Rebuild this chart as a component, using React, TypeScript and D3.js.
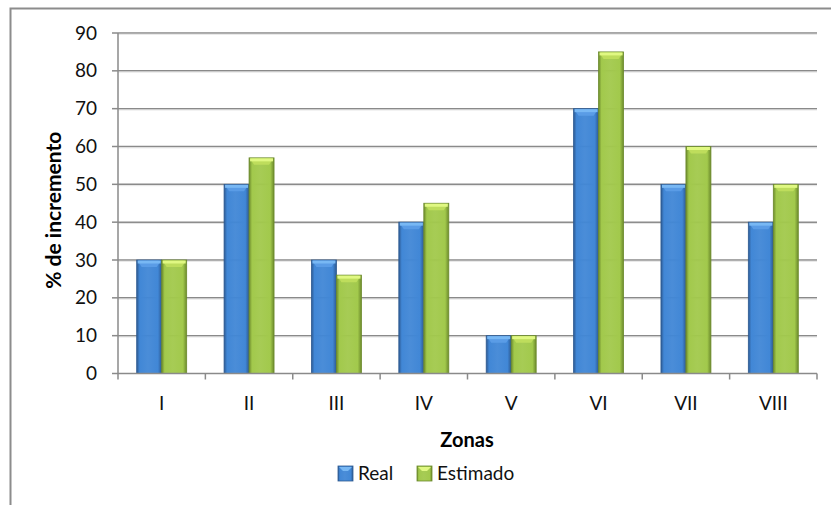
import React from "react";
import * as d3 from "d3";

const zonas = ["I", "II", "III", "IV", "V", "VI", "VII", "VIII"];
const real = [30, 50, 30, 40, 10, 70, 50, 40];
const estimado = [30, 57, 26, 45, 10, 85, 60, 50];
const seriesNames = ["Real", "Estimado"];
const yTicks = [0, 10, 20, 30, 40, 50, 60, 70, 80, 90];

const W = 831;
const H = 505;
const font = "Lato, 'Open Sans', sans-serif";

const palette = [
  { edge: "#2d5a92", mid: "#4187d6", top: "#78b8f4", cap: "#5a9ce6" },
  { edge: "#6c8a2c", mid: "#a2c94c", top: "#e0f882", cap: "#bedd5c" },
];

const App = () => {
  const x0 = d3
    .scaleBand()
    .domain(zonas)
    .range([118, 817])
    .paddingInner(0.428)
    .paddingOuter(0.214);
  const x1 = d3
    .scaleBand()
    .domain(seriesNames)
    .range([0, x0.bandwidth()]);
  const y = d3.scaleLinear().domain([0, 90]).range([373.5, 33]);

  const step = x0.step();
  const boundaries = zonas.map((z) => x0(z) - (step * x0.paddingInner()) / 2);
  boundaries.push(x0.range()[1]);

  const data = zonas.map((z, i) => [real[i], estimado[i]]);

  return (
    <svg
      width={W}
      height={H}
      style={{ position: "absolute", left: 0, top: 0, background: "#fff" }}
    >
      <defs>
        {palette.map((p, i) => (
          <linearGradient key={i} id={"g" + i} x1="0" x2="1" y1="0" y2="0">
            <stop offset="0" stopColor={p.edge} />
            <stop offset="0.12" stopColor={p.mid} />
            <stop offset="0.45" stopColor={p.mid} stopOpacity="0.95" />
            <stop offset="0.85" stopColor={p.mid} />
            <stop offset="1" stopColor={p.edge} />
          </linearGradient>
        ))}
      </defs>

      <rect x={10.5} y={8.5} width={840} height={520} fill="#fff" stroke="#8c8c8c" strokeWidth={2} />

      {/* gridlines */}
      {yTicks.slice(1).map((t) => (
        <g key={t}>
          <line x1={118} x2={817} y1={y(t)} y2={y(t)} stroke="#8a8a8a" strokeWidth={1.5} />
          <line x1={118} x2={817} y1={y(t) + 1.3} y2={y(t) + 1.3} stroke="#dcdcdc" strokeWidth={0.8} />
        </g>
      ))}

      {/* bars */}
      {data.map((vals, i) => (
        <g key={zonas[i]} transform={`translate(${x0(zonas[i])},0)`}>
          {vals.map((v, j) => {
            const bx = x1(seriesNames[j]);
            const bw = x1.bandwidth();
            const by = y(v);
            const bh = y(0) - by;
            const p = palette[j];
            return (
              <g key={j}>
                <rect x={bx} y={by} width={bw} height={bh} fill={`url(#g${j})`} />
                <rect x={bx} y={by} width={bw} height={bh} fill="none" stroke={p.edge} strokeWidth={0.8} />
                <path
                  d={`M${bx + 1},${by + 1}H${bx + bw - 1}L${bx + bw - 5},${by + 7}H${bx + 5}Z`}
                  fill={p.cap}
                />
                <rect x={bx + 1} y={by + 0.5} width={bw - 2} height={3} fill={p.top} />
              </g>
            );
          })}
        </g>
      ))}

      {/* y axis */}
      <line x1={118} x2={118} y1={y(90)} y2={y(0)} stroke="#8a8a8a" strokeWidth={1.5} />
      {yTicks.map((t) => (
        <g key={t}>
          <line x1={112} x2={118} y1={y(t)} y2={y(t)} stroke="#8a8a8a" strokeWidth={1.5} />
          <text
            x={97}
            y={y(t)}
            dy="0.35em"
            textAnchor="end"
            fontFamily={font}
            fontSize={19}
            fill="#111"
          >
            {t}
          </text>
        </g>
      ))}

      {/* x axis */}
      <line x1={118} x2={817} y1={y(0)} y2={y(0)} stroke="#8a8a8a" strokeWidth={1.5} />
      {boundaries.map((b, i) => (
        <line key={i} x1={b} x2={b} y1={y(0)} y2={y(0) + 6} stroke="#8a8a8a" strokeWidth={1.5} />
      ))}
      {zonas.map((z) => (
        <text
          key={z}
          x={x0(z) + x0.bandwidth() / 2}
          y={410}
          textAnchor="middle"
          fontFamily={font}
          fontSize={19}
          fill="#111"
        >
          {z}
        </text>
      ))}

      <text x={467} y={447} textAnchor="middle" fontFamily={font} fontSize={20} fontWeight="bold" fill="#000">
        Zonas
      </text>
      <text
        transform={`translate(61,${(y(0) + y(90)) / 2 + 7}) rotate(-90)`}
        textAnchor="middle"
        fontFamily={font}
        fontSize={21}
        fontWeight="bold"
        fill="#000"
      >
        % de incremento
      </text>

      {/* legend */}
      {seriesNames.map((s, j) => {
        const lx = j === 0 ? 338 : 417;
        const p = palette[j];
        return (
          <g key={s}>
            <rect x={lx} y={466} width={15} height={15} fill={`url(#g${j})`} stroke={p.edge} strokeWidth={0.8} />
            <path d={`M${lx + 1},${467}H${lx + 14}L${lx + 10},${471}H${lx + 5}Z`} fill={p.top} />
            <text x={lx + 20} y={480} fontFamily={font} fontSize={19} fill="#111">
              {s}
            </text>
          </g>
        );
      })}
    </svg>
  );
};

export default App;
